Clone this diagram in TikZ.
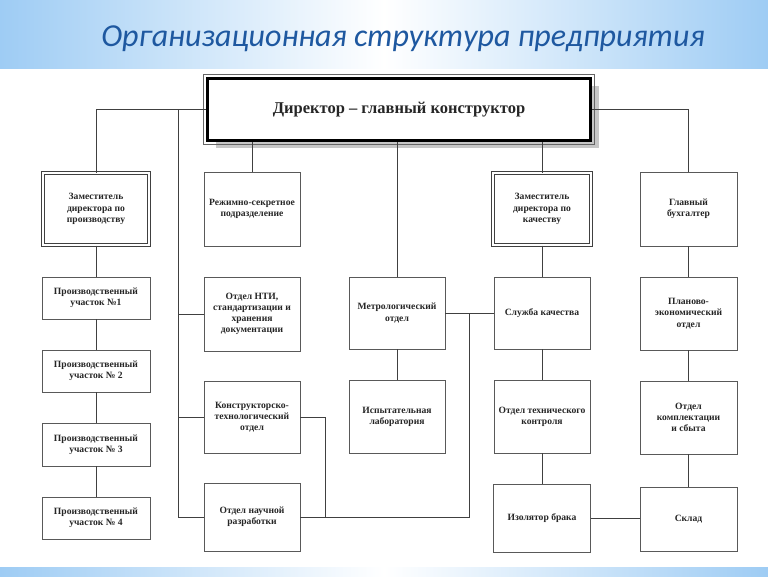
\documentclass[tikz,border=0pt]{standalone}
\usepackage{fontspec}
\setmainfont{Liberation Serif}
\newfontfamily\titlefont{Carlito}
\usetikzlibrary{shadows}
\definecolor{bandblue}{RGB}{158,204,244}
\definecolor{titleblue}{RGB}{30,88,160}

\begin{document}
\begin{tikzpicture}[x=1pt,y=1pt]
\tikzstyle{every node}+=[inner sep=0pt, font=\bfseries\fontsize{9.6}{11.2}\selectfont, text=black!85, align=center]
\tikzstyle{box}=[draw=black!65, line width=0.8pt, fill=white, minimum width=96, minimum height=72]
\tikzstyle{deputy}=[box, double, double distance=1.3pt, line width=1pt, draw=black!75]
\tikzstyle{wire}=[draw=black!75, line width=0.7pt]
\useasboundingbox (0,0) rectangle (768,-576);
\fill [white] (0,0) rectangle (768,-576);
\shade [left color=bandblue, right color=bandblue, middle color=white] (0,0) rectangle (768,-68);
\shade [left color=bandblue, right color=bandblue, middle color=white] (0,-567) rectangle (768,-576);
\node (title) at (403,-39) {\titlefont\itshape\mdseries\fontsize{32}{36}\selectfont\color{titleblue}Организационная структура предприятия};
% top level
\node [box, draw=black, line width=3pt, minimum width=383, minimum height=62,
  drop shadow={shadow xshift=8pt, shadow yshift=-7pt, fill=black!22, opacity=1},
  font=\bfseries\fontsize{16.5}{18}\selectfont] (dir) at (399,-109.5) {Директор -- главный конструктор};
\draw [black!60, line width=0.7pt] ([shift={(-2.6,2.6)}]dir.north west) rectangle ([shift={(2.6,-2.6)}]dir.south east);
% deputies and first row
\node [deputy, minimum width=106, minimum height=72] (dpr) at (96,-209) {Заместитель\\директора по\\производству};
\node [box, minimum height=74] (rs) at (252,-209) {Режимно-секретное\\подразделение};
\node [deputy, minimum width=98, minimum height=72] (dkach) at (542,-209) {Заместитель\\директора по\\качеству};
\node [box, minimum width=97, minimum height=74] (buh) at (688.5,-209) {Главный\\бухгалтер};
% production sites
\node [box, minimum width=108, minimum height=42] (u1) at (96,-298) {Производственный\\участок №1};
\node [box, minimum width=108, minimum height=42] (u2) at (96,-371) {Производственный\\участок № 2};
\node [box, minimum width=108, minimum height=43] (u3) at (96,-444.5) {Производственный\\участок № 3};
\node [box, minimum width=108, minimum height=42] (u4) at (96,-518) {Производственный\\участок № 4};
% design departments
\node [box, minimum height=74] (nti) at (252,-314) {Отдел НТИ,\\стандартизации и\\хранения\\документации};
\node [box] (kto) at (252,-417) {Конструкторско-\\технологический\\отдел};
\node [box, minimum height=68] (onr) at (252,-517) {Отдел научной\\разработки};
\node [box] (metr) at (397,-313) {Метрологический\\отдел};
\node [box, minimum height=73] (isp) at (397,-416.5) {Испытательная\\лаборатория};
% quality
\node [box] (sk) at (542,-313) {Служба качества};
\node [box, minimum height=73] (otk) at (542,-416.5) {Отдел технического\\контроля};
\node [box, minimum width=97, minimum height=68] (iz) at (542,-518) {Изолятор брака};
% accounting
\node [box, minimum width=97, minimum height=73] (pl) at (688.5,-313.5) {Планово-\\экономический\\отдел};
\node [box, minimum width=97, minimum height=73] (kom) at (688.5,-417.5) {Отдел\\комплектации\\и сбыта};
\node [box, minimum width=97, minimum height=64] (skl) at (688.5,-519) {Склад};
% connectors
\coordinate (bus) at (178,-109.5);
\coordinate (join) at (469,-313);
\draw [wire] (dir.west) -| (dpr.north);
\draw [wire] (bus) |- (onr.west);
\draw [wire] (bus |- nti.west) -- (nti.west);
\draw [wire] (bus |- kto.west) -- (kto.west);
\draw [wire] (rs.north) -- (rs.north |- dir.south);
\draw [wire] (metr.north) -- (metr.north |- dir.south);
\draw [wire] (dkach.north) -- (dkach.north |- dir.south);
\draw [wire] (dir.east) -| (buh.north);
\draw [wire] (dpr) -- (u1) -- (u2) -- (u3) -- (u4);
\draw [wire] (metr) -- (isp);
\draw [wire] (dkach) -- (sk) -- (otk) -- (iz);
\draw [wire] (buh) -- (pl) -- (kom) -- (skl);
\draw [wire] (metr.east) -- (sk.west);
\draw [wire] (join) |- (onr.east);
\draw [wire] (kto.east) -| ([xshift=25]kto.east |- onr.east);
\draw [wire] (iz.east) -- (iz.east -| skl.west);
\end{tikzpicture}
\end{document}
